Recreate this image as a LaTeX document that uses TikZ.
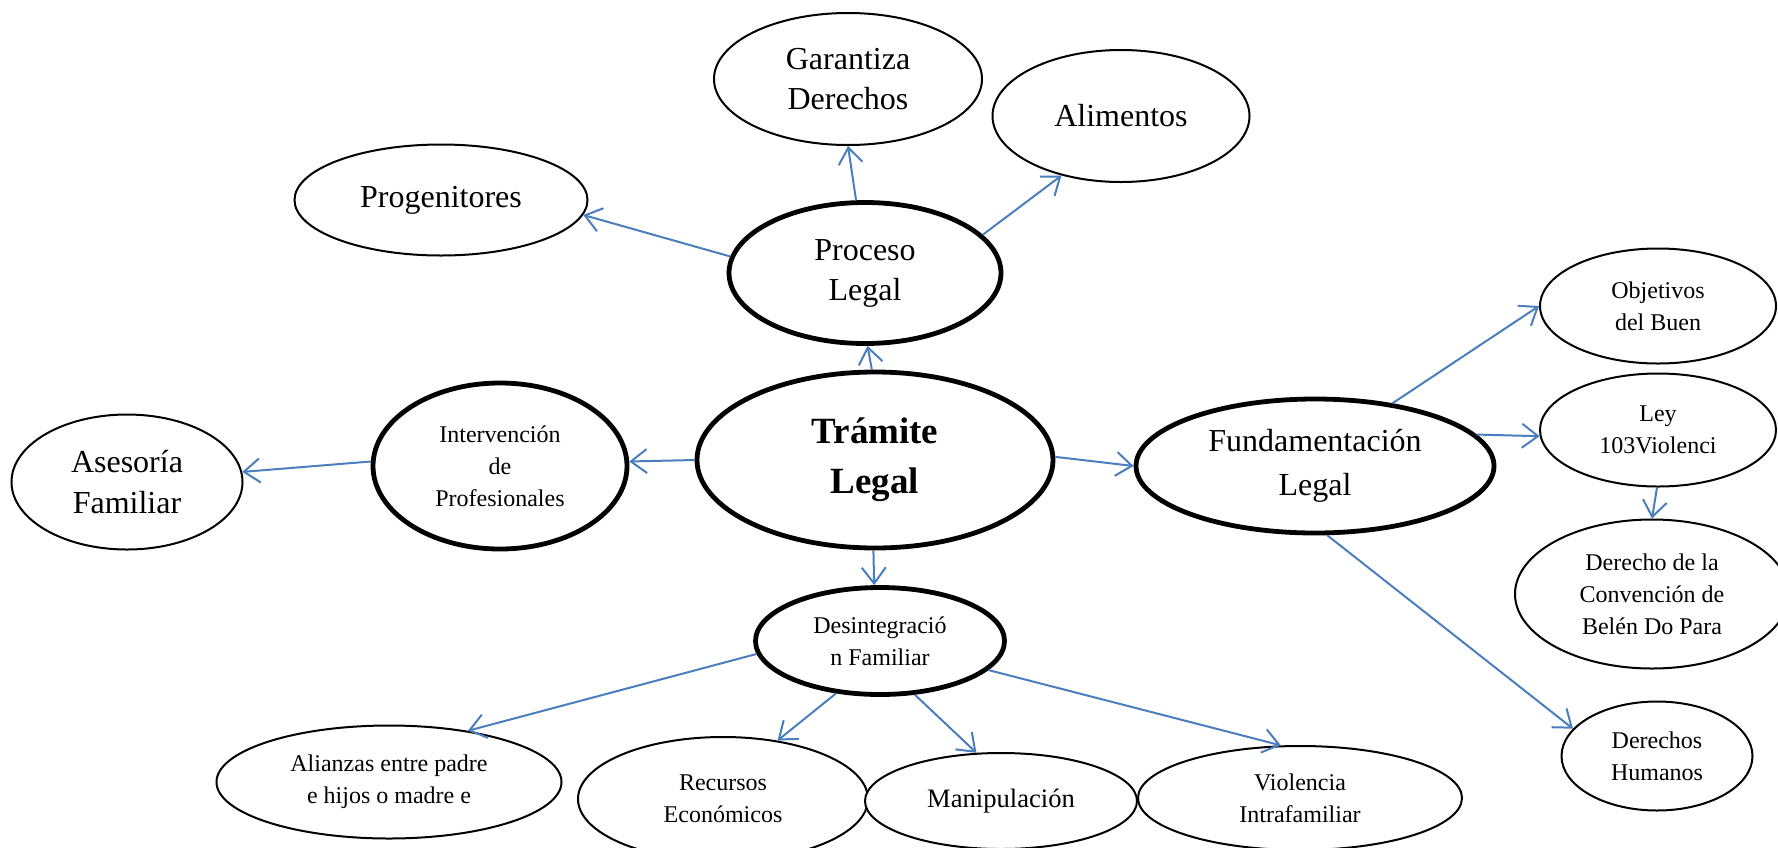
\documentclass[tikz,border=0pt]{standalone}
\usepackage{fontspec}
\setmainfont{Liberation Serif}
\usetikzlibrary{shapes.geometric,arrows.meta}
\definecolor{arrowblue}{RGB}{74,126,189}
\tikzset{
  bub/.style={ellipse, draw=black, line width=1pt, inner sep=0pt, fill=white},
  tbub/.style={bub, line width=2.4pt},
  arr/.style={draw=arrowblue, line width=1pt, -{Straight Barb[length=8pt,width=12pt]}},
  sm/.style={font=\fontsize{12}{16}\selectfont, align=center, inner sep=0pt},
  md/.style={font=\fontsize{16}{20}\selectfont, align=center, inner sep=0pt},
  lg/.style={font=\fontsize{16}{22}\selectfont, align=center, inner sep=0pt},
}
\begin{document}
\begin{tikzpicture}[x=0.5pt,y=-0.5pt]
\clip (0,0) rectangle (1778,847);
\fill[white] (0,0) rectangle (1778,847);

% nodes
\node[bub, minimum width=134pt, minimum height=66pt] (gar) at (848,79) {};
\node[md] (gar-t) at (gar) {Garantiza\\Derechos};
\node[bub, minimum width=128.5pt, minimum height=66pt] (ali) at (1121,116) {};
\node[md] (ali-t) at (ali) {Alimentos};
\node[bub, minimum width=146.5pt, minimum height=55.5pt] (prog) at (441,200) {};
\node[md] (prog-t) at (prog) {Progenitores};
\node[tbub, minimum width=136pt, minimum height=70.5pt] (proc) at (865,273) {};
\node[md] (proc-t) at (proc) {Proceso\\Legal};
\node[bub, minimum width=118pt, minimum height=57.5pt] (obj) at (1658,306) {};
\node[sm] (obj-t) at (obj) {Objetivos\\del Buen};
\node[bub, minimum width=118pt, minimum height=56.5pt] (ley) at (1658,430) {};
\node[sm] (ley-t) at (ley) {Ley\\103Violenci};
\node[tbub, minimum width=178pt, minimum height=88pt] (tram) at (875,460) {};
\node[font=\fontsize{18.5}{25}\selectfont\bfseries, align=center, inner sep=0pt] (tram-t) at (tram) {Trámite\\Legal};
\node[tbub, minimum width=127pt, minimum height=83pt] (interv) at (500,466) {};
\node[sm] (interv-t) at (interv) {Intervención\\de\\Profesionales};
\node[bub, minimum width=115.5pt, minimum height=67.5pt] (ases) at (127,482) {};
\node[lg, font=\fontsize{16}{20.5}\selectfont] (ases-t) at (ases) {Asesoría\\Familiar};
\node[tbub, minimum width=179pt, minimum height=67pt] (fund) at (1315,466) {};
\node[lg] (fund-t) at (fund) {Fundamentación\\Legal};
\node[bub, minimum width=137pt, minimum height=74.5pt] (conv) at (1652,594) {};
\node[sm] (conv-t) at (conv) {Derecho de la\\Convención de\\Belén Do Para};
\node[tbub, minimum width=124.5pt, minimum height=53.5pt] (desint) at (880,641) {};
\node[sm] (desint-t) at (desint) {Desintegració\\n Familiar};
\node[bub, minimum width=95.5pt, minimum height=54.5pt] (dh) at (1657,756) {};
\node[sm] (dh-t) at (dh) {Derechos\\Humanos};
\node[bub, minimum width=172.5pt, minimum height=56.5pt] (alian) at (389,782) {};
\node[sm] (alian-t) at (alian) {Alianzas entre padre\\e hijos o madre e};
\node[bub, minimum width=145pt, minimum height=62pt] (rec) at (723,799) {};
\node[sm] (rec-t) at (rec) {Recursos\\Económicos};
\node[bub, minimum width=136pt, minimum height=48pt] (manip) at (1001,801) {};
\node[font=\fontsize{13.3}{16}\selectfont, inner sep=0pt] (manip-t) at (manip) {Manipulación};
\node[bub, minimum width=162pt, minimum height=52pt] (viol) at (1300,798) {};
\node[sm] (viol-t) at (viol) {Violencia\\Intrafamiliar};

% connectors
\draw[arr] (tram.92) -- (proc.-88);
\draw[arr] (proc.97) -- (gar.south);
\draw[arr] (proc.18) -- (ali.-135);
\draw[arr] (proc.173) -- (prog.-6);
\draw[arr] (tram.180) -- (interv.2);
\draw[arr] (interv.178) -- (ases.5);
\draw[arr] (tram.1) -- (fund.180);
\draw[arr] (fund.39) -- (obj.180);
\draw[arr] (fund.11) -- (ley.183);
\draw[arr] (ley.-91) -- (conv.90);
\draw[arr] (fund.-80) -- (dh.162);
\draw[arr] (tram.-91) -- (desint.96);
\draw[arr] (desint.186) -- (alian.33);
\draw[arr] (desint.-130) -- (rec.47);
\draw[arr] (desint.-57) -- (manip.117);
\draw[arr] (desint.-15) -- (viol.110);
\end{tikzpicture}
\end{document}
